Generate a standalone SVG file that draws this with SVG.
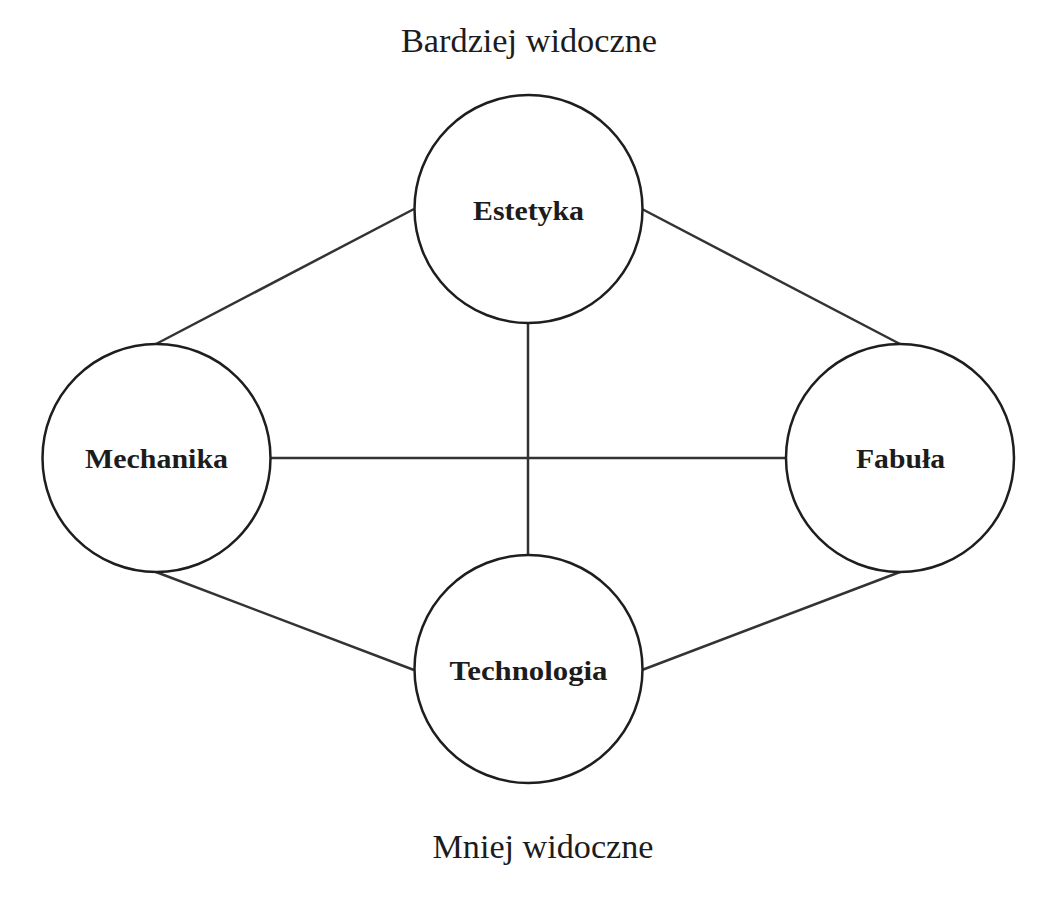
<svg xmlns="http://www.w3.org/2000/svg" width="1052" height="898" viewBox="0 0 1052 898">
<style>
.bg{fill:#ffffff}
.node circle{fill:#ffffff;stroke:#1e1e1e;stroke-width:2.5}
.node text{font-family:"Liberation Serif","Times New Roman",serif;font-weight:bold;font-size:27px;fill:#1c1c1c;text-anchor:middle}
.edges line{stroke:#333333;stroke-width:2.5}
.title{font-family:"Liberation Serif","Times New Roman",serif;font-size:33px;fill:#1c1c1c;text-anchor:middle}
</style>
<rect class="bg" x="0" y="0" width="1052" height="898"/>
<g id="connectors" class="edges">
<line x1="414" y1="209" x2="156" y2="344"/>
<line x1="642" y1="209" x2="900" y2="344"/>
<line x1="528" y1="323" x2="528" y2="556"/>
<line x1="270" y1="458" x2="786" y2="458"/>
<line x1="156" y1="572" x2="414" y2="670"/>
<line x1="900" y1="572" x2="642" y2="670"/>
</g>
<g id="estetyka" class="node">
<circle cx="528.5" cy="209" r="114"/>
<text x="528.5" y="220" textLength="111" lengthAdjust="spacingAndGlyphs">Estetyka</text>
</g>
<g id="mechanika" class="node">
<circle cx="156.5" cy="458" r="114"/>
<text x="156.5" y="468" textLength="143" lengthAdjust="spacingAndGlyphs">Mechanika</text>
</g>
<g id="fabula" class="node">
<circle cx="900" cy="458" r="114"/>
<text x="900.5" y="468" textLength="89" lengthAdjust="spacingAndGlyphs">Fabuła</text>
</g>
<g id="technologia" class="node">
<circle cx="528.5" cy="669" r="114"/>
<text x="528.5" y="680" textLength="158" lengthAdjust="spacingAndGlyphs">Technologia</text>
</g>
<text class="title" x="529" y="52" textLength="256" lengthAdjust="spacingAndGlyphs">Bardziej widoczne</text>
<text class="title" x="543" y="858" textLength="221" lengthAdjust="spacingAndGlyphs">Mniej widoczne</text>
</svg>
